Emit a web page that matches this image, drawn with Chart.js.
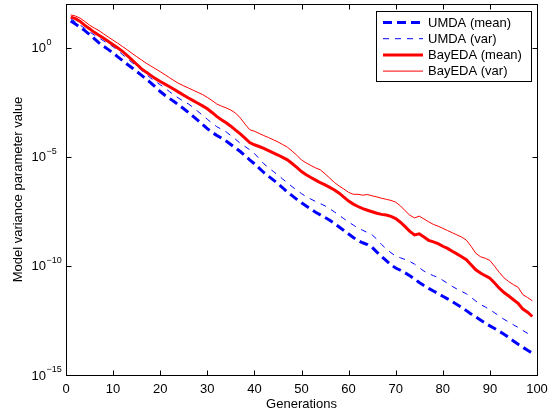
<!DOCTYPE html>
<html>
<head>
<meta charset="utf-8">
<script src="https://cdn.jsdelivr.net/npm/chart.js@4/dist/chart.umd.min.js"></script>
<style>
html,body{margin:0;padding:0;background:#fff;}
#wrap{width:557px;height:415px;}
</style>
</head>
<body>
<div id="wrap"><canvas id="c" width="557" height="415"></canvas></div>
<script>
// Generations 1..99 (x values)
const generations = Array.from({length: 99}, (_, i) => i + 1);

// log10 of each series value
const umdaMeanExp = [1.22,1.08,0.93,0.78,0.60,0.41,0.22,0.06,-0.09,-0.24,
-0.42,-0.59,-0.76,-0.92,-1.09,-1.26,-1.44,-1.61,-1.81,-2.01,
-2.18,-2.33,-2.48,-2.64,-2.80,-2.97,-3.15,-3.33,-3.52,-3.71,
-3.88,-4.02,-4.14,-4.28,-4.44,-4.60,-4.76,-4.95,-5.14,-5.32,
-5.52,-5.72,-5.89,-6.06,-6.23,-6.42,-6.62,-6.78,-6.95,-7.11,
-7.26,-7.40,-7.54,-7.66,-7.78,-7.91,-8.06,-8.22,-8.38,-8.54,
-8.70,-8.84,-8.94,-9.02,-9.15,-9.37,-9.57,-9.76,-9.95,-10.10,
-10.20,-10.32,-10.45,-10.60,-10.76,-10.90,-11.03,-11.15,-11.27,-11.39,
-11.51,-11.64,-11.77,-11.90,-12.05,-12.20,-12.34,-12.48,-12.62,-12.75,
-12.87,-13.00,-13.13,-13.28,-13.44,-13.59,-13.73,-13.87,-14.00];

const umdaVarExp = [1.33,1.18,1.03,0.88,0.73,0.58,0.44,0.31,0.18,0.04,
-0.13,-0.32,-0.50,-0.68,-0.84,-1.03,-1.22,-1.40,-1.55,-1.70,
-1.85,-2.02,-2.18,-2.33,-2.46,-2.58,-2.74,-2.92,-3.10,-3.28,
-3.46,-3.62,-3.74,-3.86,-4.03,-4.20,-4.38,-4.53,-4.68,-4.85,
-5.08,-5.32,-5.50,-5.67,-5.84,-6.02,-6.19,-6.37,-6.53,-6.69,
-6.83,-6.94,-7.05,-7.15,-7.25,-7.38,-7.53,-7.68,-7.84,-7.99,
-8.13,-8.27,-8.37,-8.47,-8.58,-8.78,-9.02,-9.22,-9.40,-9.55,
-9.63,-9.71,-9.80,-9.92,-10.08,-10.24,-10.35,-10.45,-10.53,-10.66,
-10.80,-10.94,-11.06,-11.17,-11.28,-11.44,-11.61,-11.77,-11.88,-12.01,
-12.15,-12.30,-12.45,-12.57,-12.70,-12.82,-12.96,-13.09,-13.20];

const bayMeanExp = [1.40,1.33,1.20,1.02,0.87,0.70,0.57,0.43,0.28,0.13,
-0.02,-0.17,-0.36,-0.56,-0.76,-0.96,-1.12,-1.27,-1.42,-1.55,
-1.67,-1.79,-1.92,-2.05,-2.18,-2.31,-2.43,-2.55,-2.67,-2.80,
-2.97,-3.15,-3.30,-3.44,-3.60,-3.78,-3.95,-4.15,-4.35,-4.45,
-4.53,-4.62,-4.72,-4.82,-4.92,-5.03,-5.14,-5.31,-5.49,-5.68,
-5.82,-5.95,-6.07,-6.19,-6.29,-6.40,-6.52,-6.67,-6.85,-7.03,
-7.17,-7.28,-7.38,-7.45,-7.52,-7.59,-7.64,-7.67,-7.73,-7.83,
-8.00,-8.20,-8.42,-8.58,-8.53,-8.68,-8.83,-8.90,-8.98,-9.10,
-9.20,-9.33,-9.45,-9.58,-9.72,-9.95,-10.18,-10.33,-10.45,-10.56,
-10.78,-11.02,-11.22,-11.38,-11.55,-11.72,-11.98,-12.12,-12.32];

const bayVarExp = [1.50,1.45,1.35,1.20,1.03,0.90,0.78,0.63,0.48,0.34,
0.20,0.05,-0.10,-0.26,-0.41,-0.56,-0.71,-0.84,-0.97,-1.10,
-1.24,-1.38,-1.52,-1.65,-1.75,-1.85,-1.95,-2.05,-2.15,-2.28,
-2.42,-2.58,-2.68,-2.76,-2.86,-3.00,-3.22,-3.50,-3.76,-3.83,
-3.93,-4.03,-4.12,-4.22,-4.32,-4.44,-4.56,-4.74,-4.93,-5.15,
-5.28,-5.40,-5.51,-5.60,-5.78,-5.98,-6.18,-6.34,-6.48,-6.63,
-6.72,-6.72,-6.76,-6.73,-6.79,-6.84,-6.90,-6.95,-7.00,-7.08,
-7.25,-7.47,-7.68,-7.80,-7.72,-7.85,-7.98,-8.10,-8.18,-8.28,
-8.38,-8.48,-8.58,-8.68,-8.82,-9.10,-9.42,-9.58,-9.65,-9.75,
-10.02,-10.30,-10.55,-10.72,-10.86,-10.98,-11.32,-11.45,-11.60];

const seriesNames = ['UMDA (mean)','UMDA (var)','BayEDA (mean)','BayEDA (var)'];
const xTicks = [0,10,20,30,40,50,60,70,80,90,100];
const yTickExps = [-15,-10,-5,0];
const xTitle = 'Generations';
const yTitle = 'Model variance parameter value';

const FONT = '"Liberation Sans", Arial, Helvetica, sans-serif';

function pts(exps){ return generations.map((g,i)=>({x:g, y:Math.pow(10, exps[i])})); }

const styles = [
  {color:'#0000ff', width:3, dash:[9,5]},
  {color:'#0000ff', width:1, dash:[6,6]},
  {color:'#ff0000', width:3, dash:[]},
  {color:'#ff0000', width:1, dash:[]}
];
const allExps = [umdaMeanExp, umdaVarExp, bayMeanExp, bayVarExp];

const datasets = allExps.map((e,i)=>({
  label: seriesNames[i],
  data: pts(e),
  borderColor: styles[i].color,
  borderWidth: styles[i].width,
  borderDash: styles[i].dash,
  pointRadius: 0,
  fill: false,
  tension: 0,
  order: 4 - i
}));

const framePlugin = {
  id: 'frame',
  afterDatasetsDraw(chart){
    const {ctx, chartArea:a, scales} = chart;
    const x = scales.x, y = scales.y;
    ctx.save();
    ctx.strokeStyle = '#000';
    ctx.lineWidth = 1;
    ctx.setLineDash([]);
    const L = Math.round(a.left)+0.5, R = Math.round(a.right)+0.5;
    const T = Math.round(a.top)+0.5, B = Math.round(a.bottom)+0.5;
    ctx.strokeRect(L, T, R-L, B-T);
    const tl = 5;
    ctx.beginPath();
    xTicks.forEach(v=>{
      const px = Math.round(x.getPixelForValue(v))+0.5;
      ctx.moveTo(px, B); ctx.lineTo(px, B-tl);
      ctx.moveTo(px, T); ctx.lineTo(px, T+tl);
    });
    yTickExps.forEach(e=>{
      const py = Math.round(y.getPixelForValue(Math.pow(10,e)))+0.5;
      ctx.moveTo(L, py); ctx.lineTo(L+tl, py);
      ctx.moveTo(R, py); ctx.lineTo(R-tl, py);
    });
    ctx.stroke();
    // y tick labels 10^e
    ctx.fillStyle = '#000';
    ctx.textBaseline = 'middle';
    ctx.textAlign = 'left';
    yTickExps.forEach(e=>{
      const py = y.getPixelForValue(Math.pow(10,e));
      ctx.font = '13px ' + FONT;
      ctx.fillText('10', 31.5, py+1);
      const w = ctx.measureText('10').width;
      ctx.font = '9px ' + FONT;
      const es = e === 0 ? '0' : '\u2212' + String(-e);
      ctx.fillText(es, 31.5 + w + 0.5, py - 5);
    });
    // legend
    const lx = 376, ly = 11.5, lw = 155, lh = 70;
    ctx.fillStyle = '#fff';
    ctx.fillRect(lx, ly, lw, lh);
    ctx.strokeStyle = '#000';
    ctx.lineWidth = 1;
    ctx.strokeRect(lx+0.5, ly, lw, lh);
    chart.data.datasets.forEach((ds,i)=>{
      const ry = 22.5 + i*16.2;
      ctx.save();
      ctx.strokeStyle = ds.borderColor;
      ctx.lineWidth = ds.borderWidth;
      ctx.setLineDash(ds.borderDash);
      ctx.beginPath();
      ctx.moveTo(383, ry); ctx.lineTo(423, ry);
      ctx.stroke();
      ctx.restore();
      ctx.fillStyle = '#000';
      ctx.font = '13px ' + FONT;
      ctx.textBaseline = 'middle';
      ctx.textAlign = 'left';
      ctx.fillText(ds.label, 428, ry + 0.5);
    });
    ctx.restore();
  }
};

new Chart(document.getElementById('c'), {
  type: 'line',
  data: { datasets },
  options: {
    responsive: false,
    animation: false,
    devicePixelRatio: 1,
    layout: { padding: { left: 0, right: 20, top: 4, bottom: 0 } },
    plugins: { legend: { display: false }, tooltip: { enabled: false } },
    scales: {
      x: {
        type: 'linear', min: 0, max: 100,
        afterBuildTicks(s){ s.ticks = xTicks.map(v=>({value:v})); },
        afterFit(s){ s.height = 40; },
        grid: { display: false, drawTicks: false },
        border: { display: false },
        ticks: { color: '#000', font: { family: FONT, size: 13 }, padding: 7, maxRotation: 0 },
        title: { display: true, text: xTitle, color: '#000', font: { family: FONT, size: 13 }, padding: { top: 0, bottom: 3 } }
      },
      y: {
        type: 'logarithmic', min: 1e-15, max: 1e2,
        afterBuildTicks(s){ s.ticks = yTickExps.map(e=>({value:Math.pow(10,e)})); },
        afterFit(s){ s.width = 66; },
        grid: { display: false, drawTicks: false },
        border: { display: false },
        ticks: { display: false },
        title: { display: true, text: yTitle, color: '#000', font: { family: FONT, size: 13 }, padding: { top: 11, bottom: 0 } }
      }
    }
  },
  plugins: [framePlugin]
});
</script>
</body>
</html>
